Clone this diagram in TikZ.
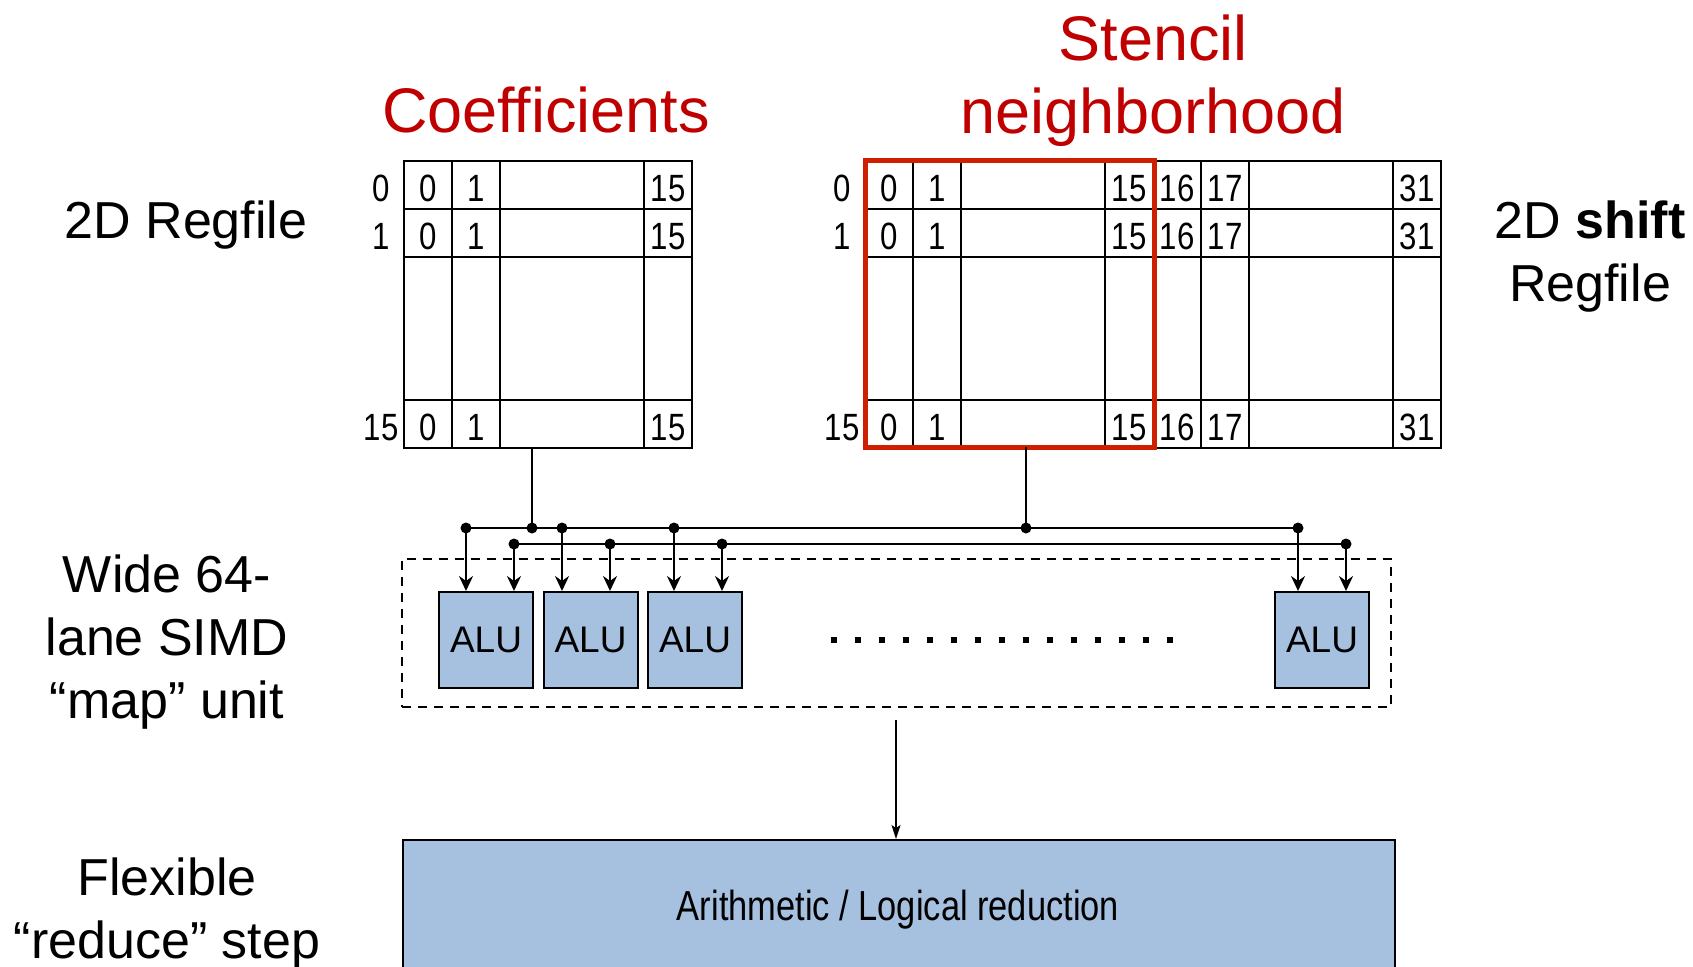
\documentclass[tikz,border=0pt]{standalone}
\usepackage{fontspec}
\setmainfont{Liberation Sans}
\newfontfamily\narrowfont[FakeStretch=0.82]{Liberation Sans}
\usetikzlibrary{arrows.meta}
\definecolor{titlered}{RGB}{192,0,0}
\definecolor{boxred}{RGB}{204,32,0}
\definecolor{alublue}{RGB}{166,192,223}

\begin{document}
\begin{tikzpicture}[x=1pt,y=-1pt,
  gridline/.style={line width=2pt},
  cellnum/.style={font=\narrowfont\fontsize{38}{40}\selectfont, inner sep=0, anchor=base},
  sidetext/.style={font=\fontsize{52}{63}\selectfont, inner sep=0, anchor=base, align=center},
  headtext/.style={font=\fontsize{63}{73}\selectfont, text=titlered, inner sep=0, anchor=base, align=center},
  alu/.style={draw, line width=2pt, fill=alublue, minimum width=94pt, minimum height=96pt, inner sep=0, font=\fontsize{37}{40}\selectfont},
  tap/.style={circle, fill, inner sep=0, minimum size=11pt},
  bus/.style={line width=2pt},
  feed/.style={line width=2pt, -{Stealth[length=15pt,width=14pt,inset=5pt]}},
]
\useasboundingbox (0,0) rectangle (1693,966);
\clip (0,0) rectangle (1693,966);

% ---- titles and side labels (base = baseline of the last line) ----
\node[headtext] (coef) at (546,132) {Coefficients};
\node[headtext] (stencil) at (1153,133) {Stencil\\neighborhood};
\node[sidetext] (lreg) at (186,238) {2D Regfile};
\node[sidetext] (rreg) at (1590,301) {2D \textbf{shift}\\Regfile};
\node[sidetext] (simdlbl) at (167,718) {Wide 64-\\lane SIMD\\“map” unit};
\node[sidetext] (redlbl) at (167,958) {Flexible\\“reduce” step};

% ---- coefficient register file ----
\node[draw, line width=2pt, inner sep=0, minimum width=288pt, minimum height=287pt] (lgrid) at (548,304.5) {};
\foreach \x in {452,500,644} \draw[gridline] (\x,161) -- (\x,448);
\foreach \y in {209,257,400} \draw[gridline] (404,\y) -- (692,\y);
\foreach \r/\b in {0/201,1/249,15/440} {
  \node[cellnum] (lrow\r) at (381,\b) {\r};
  \foreach \c/\cx in {0/428,1/476,15/668}
    \node[cellnum] (l\r c\c) at (\cx,\b) {\c};
}

% ---- shift register file ----
\node[draw, line width=2pt, inner sep=0, minimum width=576pt, minimum height=287pt] (rgrid) at (1153,304.5) {};
\foreach \x in {913,961,1105,1153,1201,1249,1393} \draw[gridline] (\x,161) -- (\x,448);
\foreach \y in {209,257,400} \draw[gridline] (865,\y) -- (1441,\y);
\foreach \r/\b in {0/201,1/249,15/440} {
  \node[cellnum] (rrow\r) at (842,\b) {\r};
  \foreach \c/\cx in {0/889,1/937,15/1129,16/1177,17/1225,31/1417}
    \node[cellnum] (r\r c\c) at (\cx,\b) {\c};
}
% stencil window
\node[draw=boxred, line width=5pt, inner sep=0, minimum width=289pt, minimum height=287pt] (win) at (1009.5,304) {};

% ---- SIMD map unit ----
\node[draw, line width=2pt, dash pattern=on 9pt off 7pt, inner sep=0, minimum width=989pt, minimum height=148pt] (simd) at (896.5,633) {};
\node[alu] (alu1) at (486,640) {ALU};
\node[alu] (alu2) at (590.5,640) {ALU};
\node[alu] (alu3) at (695,640) {ALU};
\node[alu] (alu4) at (1322,640) {ALU};
\foreach \i in {0,...,14} \fill (831+24*\i,637) rectangle ++(6,6);

% ---- operand buses ----
\coordinate (ls) at (532,448);
\coordinate (rs) at (1026,447);
\coordinate (u1) at (466,528);
\coordinate (u2) at (532,528);
\coordinate (u3) at (562,528);
\coordinate (u4) at (674,528);
\coordinate (u5) at (1026,528);
\coordinate (u6) at (1298,528);
\coordinate (d1) at (514,544);
\coordinate (d2) at (610,544);
\coordinate (d3) at (722,544);
\coordinate (d4) at (1346,544);

\draw[bus] (ls) -- (u2);
\draw[bus] (rs) -- (u5);
\draw[bus] (u1) -- (u6);
\draw[bus] (d1) -- (d4);

\draw[feed] (u1) -- (u1 |- alu1.north);
\draw[feed] (d1) -- (d1 |- alu1.north);
\draw[feed] (u3) -- (u3 |- alu2.north);
\draw[feed] (d2) -- (d2 |- alu2.north);
\draw[feed] (u4) -- (u4 |- alu3.north);
\draw[feed] (d3) -- (d3 |- alu3.north);
\draw[feed] (u6) -- (u6 |- alu4.north);
\draw[feed] (d4) -- (d4 |- alu4.north);

\foreach \p in {u1,u2,u3,u4,u5,u6,d1,d2,d3,d4} \node[tap] at (\p) {};

% ---- reduction stage ----
\node[draw, line width=2pt, fill=alublue, inner sep=0, minimum width=992pt, minimum height=170pt, anchor=north west] (reduce) at (402,839) {};
\node[font=\narrowfont\fontsize{42}{44}\selectfont, inner sep=0, anchor=base] (redtxt) at (898,920) {Arithmetic / Logical reduction};
\coordinate (outtap) at (896,720);
\draw[line width=1.5pt, -{Stealth[length=14pt,width=9pt,inset=3pt]}] (outtap) -- (outtap |- reduce.north);
\end{tikzpicture}
\end{document}
